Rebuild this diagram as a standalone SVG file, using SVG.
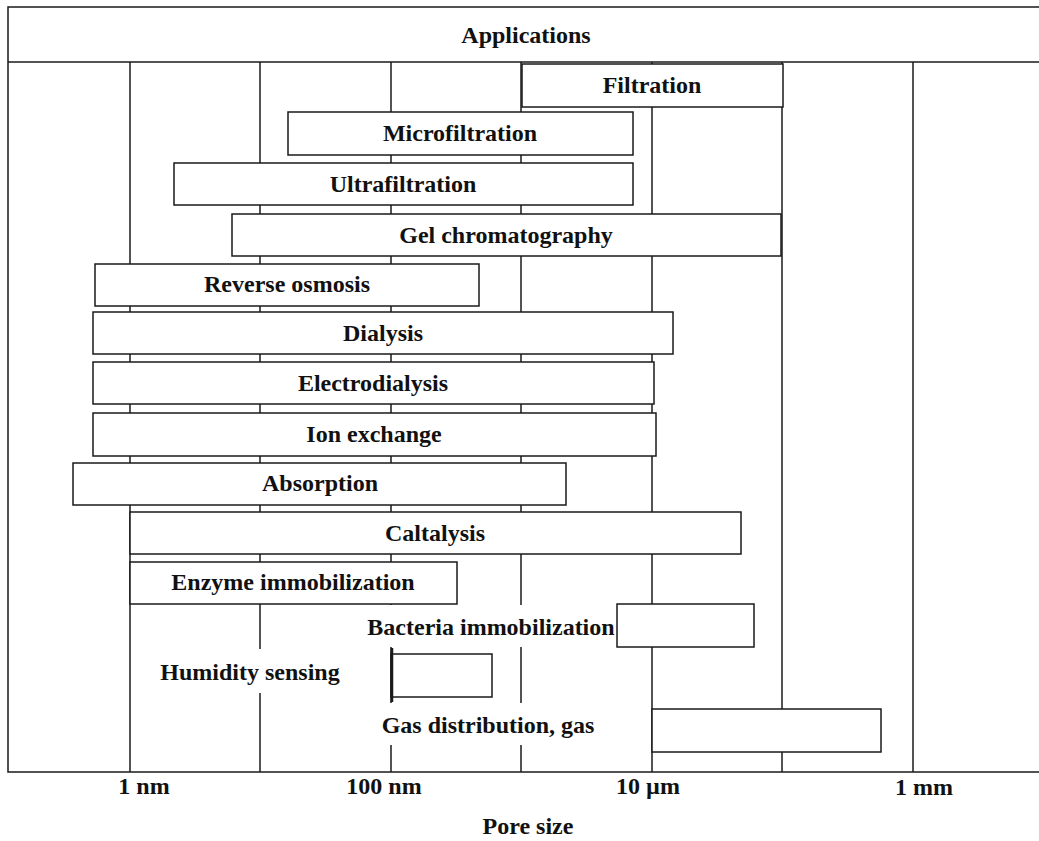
<svg xmlns="http://www.w3.org/2000/svg" width="1039" height="841" viewBox="0 0 1039 841">
<style>
.ln{stroke:#1a1a1a;stroke-width:1.5;fill:none}
.bx{stroke:#1a1a1a;stroke-width:1.5;fill:#fff}
.bg{fill:#fff;stroke:none}
text{font-family:"Liberation Serif","Times New Roman",serif;font-weight:bold;font-size:24px;fill:#111;text-anchor:middle}
</style>
<rect x="0" y="0" width="1039" height="841" fill="#fff"/>
<g id="frame">
<rect class="ln" x="8" y="7" width="1040" height="765"/>
<line class="ln" x1="8" y1="62" x2="1039" y2="62"/>
</g>
<g id="connectors">
<line class="ln" x1="130" y1="62" x2="130" y2="772"/>
<line class="ln" x1="260" y1="62" x2="260" y2="772"/>
<line class="ln" x1="391" y1="62" x2="391" y2="772"/>
<line class="ln" x1="521" y1="62" x2="521" y2="772"/>
<line class="ln" x1="652" y1="62" x2="652" y2="772"/>
<line class="ln" x1="782" y1="62" x2="782" y2="772"/>
<line class="ln" x1="913" y1="62" x2="913" y2="772"/>
</g>
<g id="header"><text x="526" y="43">Applications</text></g>
<g id="filtration"><rect class="bx" x="522" y="64" width="261" height="43"/><text x="652" y="93">Filtration</text></g>
<g id="microfiltration"><rect class="bx" x="288" y="112" width="345" height="43"/><text x="460" y="141">Microfiltration</text></g>
<g id="ultrafiltration"><rect class="bx" x="174" y="163" width="459" height="42"/><text x="403" y="192">Ultrafiltration</text></g>
<g id="gel"><rect class="bx" x="232" y="214" width="549" height="42"/><text x="506" y="243">Gel chromatography</text></g>
<g id="reverse-osmosis"><rect class="bx" x="95" y="264" width="384" height="42"/><text x="287" y="292">Reverse osmosis</text></g>
<g id="dialysis"><rect class="bx" x="93" y="312" width="580" height="42"/><text x="383" y="341">Dialysis</text></g>
<g id="electrodialysis"><rect class="bx" x="93" y="362" width="561" height="42"/><text x="373" y="391">Electrodialysis</text></g>
<g id="ion-exchange"><rect class="bx" x="93" y="413" width="563" height="43"/><text x="374" y="442">Ion exchange</text></g>
<g id="absorption"><rect class="bx" x="73" y="463" width="493" height="42"/><text x="320" y="491">Absorption</text></g>
<g id="caltalysis"><rect class="bx" x="130" y="512" width="611" height="42"/><text x="435" y="541">Caltalysis</text></g>
<g id="enzyme"><rect class="bx" x="130" y="562" width="327" height="42"/><text x="293" y="590">Enzyme immobilization</text></g>
<g id="bacteria"><rect class="bg" x="360" y="605" width="257" height="42"/><rect class="bx" x="617" y="604" width="137" height="43"/><text x="491" y="635">Bacteria immobilization</text></g>
<g id="humidity"><rect class="bg" x="150" y="649" width="200" height="44"/><rect class="bx" x="391" y="654" width="101" height="43"/><line x1="392" y1="648" x2="392" y2="702" stroke="#1a1a1a" stroke-width="2.5"/><text x="250" y="680">Humidity sensing</text></g>
<g id="gas"><rect class="bg" x="372" y="703" width="234" height="42"/><rect class="bx" x="652" y="709" width="229" height="43"/><text x="488" y="733">Gas distribution, gas</text></g>
<g id="axis">
<text x="144" y="794">1 nm</text>
<text x="384" y="794">100 nm</text>
<text x="648" y="794">10 µm</text>
<text x="924" y="795">1 mm</text>
<text x="528" y="834">Pore size</text>
</g>
</svg>
